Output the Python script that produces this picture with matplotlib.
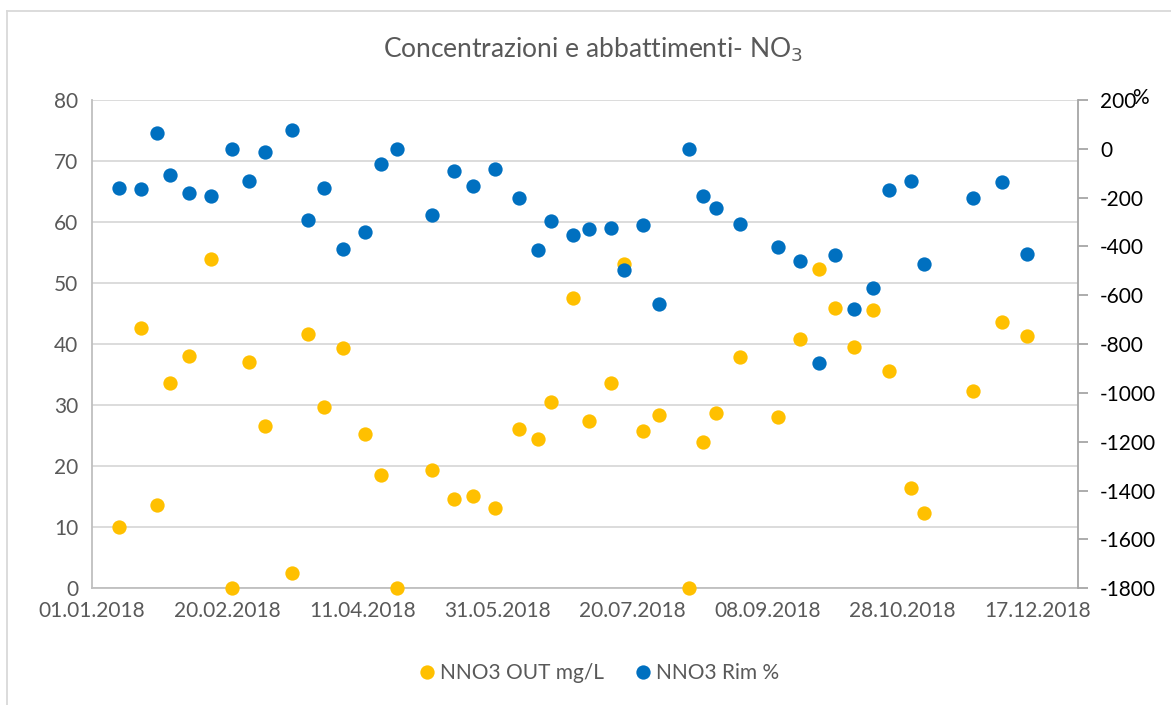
import matplotlib
matplotlib.use("Agg")
import matplotlib.pyplot as plt
import matplotlib.dates as mdates
from matplotlib.lines import Line2D
import numpy as np
import pandas as pd

plt.rcParams['font.family'] = ['Lato', 'DejaVu Sans']
plt.rcParams['axes.unicode_minus'] = False

# sampling dates
dates = ["2018-01-11", "2018-01-19", "2018-01-25", "2018-01-30", "2018-02-06",
         "2018-02-14", "2018-02-22", "2018-02-28", "2018-03-06", "2018-03-16",
         "2018-03-22", "2018-03-28", "2018-04-04", "2018-04-12", "2018-04-18",
         "2018-04-24", "2018-05-07", "2018-05-15", "2018-05-22", "2018-05-30",
         "2018-06-08", "2018-06-15", "2018-06-20", "2018-06-28", "2018-07-04",
         "2018-07-12", "2018-07-17", "2018-07-24", "2018-07-30", "2018-08-10",
         "2018-08-15", "2018-08-20", "2018-08-29", "2018-09-12", "2018-09-20",
         "2018-09-27", "2018-10-03", "2018-10-10", "2018-10-17", "2018-10-23",
         "2018-10-31", "2018-11-05", "2018-11-23", "2018-12-04", "2018-12-13"]

# NNO3 OUT mg/L (left axis)
nno3_out = [10.0, 42.7, 13.7, 33.6, 38.1, 54.0, 0.0, 37.1, 26.6, 2.5,
            41.7, 29.7, 39.3, 25.3, 18.6, 0.0, 19.4, 14.6, 15.2, 13.2,
            26.1, 24.4, 30.5, 47.5, 27.4, 33.6, 53.2, 25.8, 28.4, 0.0,
            24.0, 28.8, 37.9, 28.0, 40.8, 52.3, 46.0, 39.5, 45.6, 35.6,
            16.5, 12.3, 32.3, 43.6, 41.3]

# NNO3 Rim % (right axis)
nno3_rim = [-162, -166, 64, -106, -182, -194, 0, -130, -12, 76,
            -290, -162, -411, -342, -62, 0, -270, -90, -151, -83,
            -201, -414, -296, -352, -328, -324, -498, -312, -634, 0,
            -193, -244, -309, -403, -459, -877, -436, -655, -570, -170,
            -130, -473, -201, -135, -432]

x = pd.to_datetime(dates)

YELLOW = "#FFC000"
BLUE = "#0070C0"
GREY_TXT = "#595959"
GRID = "#D9D9D9"
AXLINE = "#BFBFBF"

fig = plt.figure(figsize=(11.71, 7.05), dpi=100)
W, H = 1171, 705
ax = fig.add_axes([92 / W, 1 - 588.3 / H, (1078 - 92) / W, (588.3 - 100) / H])
ax2 = ax.twinx()

ms = 10.3
ax.plot(x, nno3_out, 'o', color=YELLOW, markersize=ms, markeredgewidth=0, clip_on=False, zorder=3)
ax2.plot(x, nno3_rim, 'o', color=BLUE, markersize=ms, markeredgewidth=0, clip_on=False, zorder=3)

# x axis
start = pd.Timestamp("2018-01-01")
ax.set_xlim(start, pd.Timestamp("2019-01-01"))
ax.set_xticks(pd.date_range(start, periods=8, freq="50D"))
ax.xaxis.set_major_formatter(mdates.DateFormatter("%d.%m.%Y"))

# left axis
ax.set_ylim(0, 80)
ax.set_yticks(np.arange(0, 81, 10))
ax.yaxis.grid(True, color=GRID, linewidth=1.3)
ax.set_axisbelow(True)

# right axis
ax2.set_ylim(-1800, 200)
ax2.set_yticks(np.arange(-1800, 201, 200))

for a in (ax, ax2):
    a.spines['top'].set_visible(False)
for s in ('left', 'bottom'):
    ax.spines[s].set_color(AXLINE)
    ax.spines[s].set_linewidth(1.3)
ax.spines['right'].set_visible(False)
ax2.spines['left'].set_visible(False)
ax2.spines['bottom'].set_visible(False)
ax2.spines['right'].set_color("#A6A6A6")
ax2.spines['right'].set_linewidth(1.3)

ax.tick_params(axis='both', length=0, labelsize=15, labelcolor=GREY_TXT)
ax.tick_params(axis='x', pad=9)
ax.tick_params(axis='y', pad=10)
ax2.tick_params(axis='y', length=7, width=1.3, color="#A6A6A6", labelsize=15,
                labelcolor="black", pad=9)

# title and right-axis unit
fig.text(593 / W, 1 - 50 / H, "Concentrazioni e abbattimenti- NO$_3$", ha='center', va='center',
         fontsize=19, color=GREY_TXT)
fig.text(1140 / W, 1 - 98 / H, "%", ha='center', va='center', fontsize=15, color='black')

# legend
handles = [Line2D([], [], marker='o', linestyle='', color=YELLOW, markersize=ms, markeredgewidth=0),
           Line2D([], [], marker='o', linestyle='', color=BLUE, markersize=ms, markeredgewidth=0)]
leg = fig.legend(handles, ["NNO3 OUT mg/L", "NNO3 Rim %"], loc='center',
                 bbox_to_anchor=(598 / W, 1 - 673 / H), ncol=2, frameon=False,
                 fontsize=15, handletextpad=0.1, columnspacing=1.4, handlelength=1.0)
for t in leg.get_texts():
    t.set_color(GREY_TXT)

# chart area border (top and left edges visible)
fig.add_artist(Line2D([7 / W, 1], [1 - 11 / H, 1 - 11 / H], color=GRID, linewidth=1.3))
fig.add_artist(Line2D([7 / W, 7 / W], [0, 1 - 11 / H], color=GRID, linewidth=1.3))

fig.savefig("out.png", dpi=100)
